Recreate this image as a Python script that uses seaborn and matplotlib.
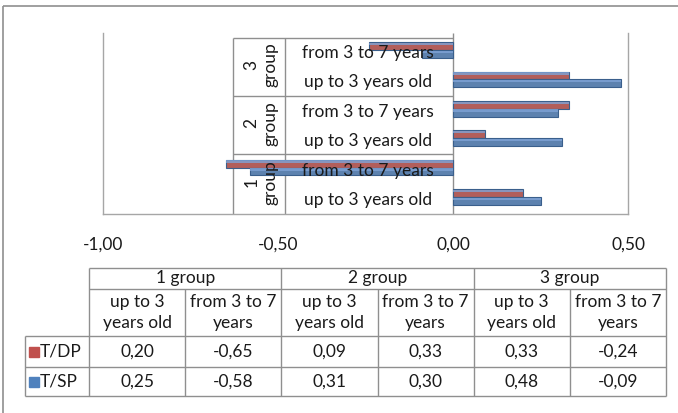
import numpy as np
import pandas as pd
import seaborn as sns
import matplotlib.pyplot as plt
from matplotlib.patches import Rectangle

groups = ["1 group", "2 group", "3 group"]
ages_chart = ["up to 3 years old", "from 3 to 7 years"]
ages_table = ["up to 3\nyears old", "from 3 to 7\nyears"]
series = ["T/DP", "T/SP"]
t_dp = [0.20, -0.65, 0.09, 0.33, 0.33, -0.24]
t_sp = [0.25, -0.58, 0.31, 0.30, 0.48, -0.09]

RED = "#C0504D"
BLUE = "#4F81BD"
EDGE = {RED: "#8C3A38", BLUE: "#3A5F8C"}
LIGHT = {RED: "#D9827F", BLUE: "#7FA3D6"}
GRID = "#8F8F8F"
FONT = "Lato"
FS = 12.5

sns.set_theme(style="white")
plt.rcParams["font.family"] = [FONT, "DejaVu Sans"]

# long frame for seaborn
keys = [f"{g}|{a}" for g in groups for a in ages_chart]
df = pd.DataFrame({
    "cat": keys * 2,
    "value": t_dp + t_sp,
    "series": [series[0]] * len(keys) + [series[1]] * len(keys),
})
order = keys[::-1]  # group 3 on top, "from" above "up"

fig = plt.figure(figsize=(6.78, 4.13), dpi=100)
W, H = 678, 413
ax = fig.add_axes([103 / W, 1 - 214 / H, 525 / W, 181 / H])

sns.barplot(data=df, y="cat", x="value", hue="series", hue_order=series,
            order=order, palette=[RED, BLUE], width=0.53, orient="h",
            legend=False, ax=ax, zorder=3)

# fake the 3D cylinder look: darker rim, lighter strip on top
for p in list(ax.patches):
    fc = p.get_facecolor()
    key = RED if abs(fc[0] - 0.753) < 0.05 else BLUE
    p.set_edgecolor(EDGE[key])
    p.set_linewidth(0.8)
    x0, y0 = p.get_x(), p.get_y()
    w, h = p.get_width(), p.get_height()
    ax.add_patch(Rectangle((x0, y0 + 0.08 * h), w, 0.3 * h, color=LIGHT[key],
                           lw=0, zorder=3.5, alpha=0.8))

ax.set_xlim(-1, 0.5)
ax.set_ylim(5.58, -0.58)
ax.set_xticks([-1, -0.5, 0, 0.5])
ax.set_xticklabels([f"{v:.2f}".replace(".", ",") for v in [-1, -0.5, 0, 0.5]],
                   fontsize=FS, color="#1a1a1a")
ax.tick_params(axis="x", length=0, pad=16)
ax.set_yticks([])
ax.set_xlabel("")
ax.set_ylabel("")
ax.spines["top"].set_visible(False)
for s in ["left", "right", "bottom"]:
    ax.spines[s].set_color("#A6A6A6")
    ax.spines[s].set_linewidth(1.0)

# category label box next to the zero line
x_box, x_mid, y_top = -0.629, -0.48, -0.41
ax.vlines([x_box, x_mid], y_top, 5.58, color=GRID, lw=1, zorder=2)
ax.vlines(0, -0.58, 5.58, color=GRID, lw=1, zorder=2)
ax.hlines([y_top, 1.55, 3.55], x_box, 0, color=GRID, lw=1, zorder=2)

for i, k in enumerate(order):
    g, a = k.split("|")
    ax.text(-0.243, i + 0.1, a, ha="center", va="center", fontsize=FS,
            color="#1a1a1a", zorder=5)
for j, g in enumerate(groups[::-1]):
    num, word = g.split(" ")
    ax.text(-0.549, 2 * j + 0.5, f"{num}\n{word}", rotation=90, ha="center",
            va="center", fontsize=FS, color="#1a1a1a", linespacing=1.25,
            zorder=5)

# data table underneath, drawn in pixel space
tx = fig.add_axes([0, 0, 1, 1])
tx.set_xlim(0, W)
tx.set_ylim(H, 0)
tx.axis("off")

# outer chart frame (left and top edges visible)
tx.vlines(3, 6, H, color=GRID, lw=1.2)
tx.hlines(6, 3, W, color=GRID, lw=1.2)

rows = [268, 289, 336, 367, 396]
col0, col1, col_end = 25, 89, 666
cols = np.linspace(col1, col_end, 7)

tx.hlines(rows[:2], col1, col_end, color=GRID, lw=1)
tx.hlines(rows[2:], col0, col_end, color=GRID, lw=1)
tx.vlines(col0, rows[2], rows[-1], color=GRID, lw=1)
for c_i, c in enumerate(cols):
    top = rows[0] if c_i % 2 == 0 else rows[1]
    tx.vlines(c, top, rows[-1], color=GRID, lw=1)

for g_i, g in enumerate(groups):
    cx = (cols[2 * g_i] + cols[2 * g_i + 2]) / 2
    tx.text(cx, (rows[0] + rows[1]) / 2, g, ha="center", va="center",
            fontsize=FS, color="#1a1a1a")
    for a_i, a in enumerate(ages_table):
        c = 2 * g_i + a_i
        sx = (cols[c] + cols[c + 1]) / 2
        tx.text(sx, (rows[1] + rows[2]) / 2, a, ha="center", va="center",
                fontsize=FS, color="#1a1a1a", linespacing=1.35)

for r_i, (name, vals, col) in enumerate(zip(series, [t_dp, t_sp], [RED, BLUE])):
    cy = (rows[2 + r_i] + rows[3 + r_i]) / 2
    tx.plot([34], [cy], marker="s", ms=6.5, color=col, mec=col)
    tx.text(40, cy, name, ha="left", va="center", fontsize=FS, color="#1a1a1a")
    for c, v in enumerate(vals):
        sx = (cols[c] + cols[c + 1]) / 2
        tx.text(sx, cy, f"{v:.2f}".replace(".", ","), ha="center",
                va="center", fontsize=FS, color="#1a1a1a")

fig.savefig("out.png", dpi=100)
